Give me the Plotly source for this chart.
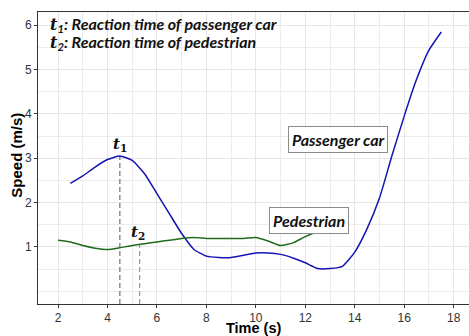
import numpy as np
import plotly.graph_objects as go

# Passenger car speed profile (m/s)
car_time = [2.5, 3.0, 3.5, 4.0, 4.5, 5.0, 5.5, 6.0, 6.5, 7.0, 7.5, 8.0, 8.5, 9.0, 9.5,
            10.0, 10.5, 11.0, 11.5, 12.0, 12.5, 13.0, 13.5, 14.0, 14.5, 15.0, 15.5,
            16.0, 16.5, 17.0, 17.5]
car_speed = [2.43, 2.6, 2.8, 2.97, 3.05, 2.95, 2.65, 2.2, 1.75, 1.3, 0.94, 0.79, 0.76,
             0.76, 0.81, 0.86, 0.86, 0.83, 0.75, 0.64, 0.51, 0.51, 0.56, 0.88, 1.41,
             2.1, 3.05, 3.95, 4.78, 5.44, 5.85]

# Pedestrian speed profile (m/s)
ped_time = [2.0, 2.5, 3.0, 3.5, 4.0, 4.5, 5.0, 5.5, 6.0, 6.5, 7.0, 7.5, 8.0, 8.5, 9.0,
            9.5, 10.0, 10.5, 11.0, 11.5, 12.0, 12.5, 13.0, 13.5]
ped_speed = [1.15, 1.11, 1.03, 0.97, 0.94, 0.98, 1.03, 1.07, 1.11, 1.15, 1.19, 1.21,
             1.19, 1.19, 1.19, 1.19, 1.21, 1.13, 1.03, 1.09, 1.23, 1.34, 1.36, 1.36]

# Reaction times (s)
t1 = 4.5
t2 = 5.3

x_ticks = [2, 4, 6, 8, 10, 12, 14, 16, 18]
y_ticks = [1, 2, 3, 4, 5, 6]

x_range = [1.19, 18.62]
y_range = [-0.29, 6.30]

t1_speed = float(np.interp(t1, car_time, car_speed))
t2_speed = float(np.interp(t2, ped_time, ped_speed))

fig = go.Figure()

fig.add_trace(go.Scatter(x=[t1, t1], y=[y_range[0], t1_speed], mode="lines",
                         line=dict(color="#707070", width=1.2, dash="5px,3px"),
                         hoverinfo="skip", showlegend=False))
fig.add_trace(go.Scatter(x=[t2, t2], y=[y_range[0], t2_speed], mode="lines",
                         line=dict(color="#9a9a9a", width=1.2, dash="5px,3px"),
                         hoverinfo="skip", showlegend=False))

fig.add_trace(go.Scatter(x=car_time, y=car_speed, mode="lines", name="Passenger car",
                         line=dict(color="#1414b4", width=1.5, shape="spline", smoothing=0.5),
                         showlegend=False))
fig.add_trace(go.Scatter(x=ped_time, y=ped_speed, mode="lines", name="Pedestrian",
                         line=dict(color="#1e6b1e", width=1.5, shape="spline", smoothing=0.5),
                         showlegend=False))

label_font = dict(family="Lato", size=16, color="#111111")

fig.add_annotation(x=0.023, y=0.958, xref="paper", yref="paper", xanchor="left", yanchor="middle",
                   text="<b><i><span style='font-family:\"DejaVu Serif\"'>t</span><sub>1</sub>: Reaction time of passenger car</i></b>",
                   showarrow=False, font=label_font)
fig.add_annotation(x=0.023, y=0.895, xref="paper", yref="paper", xanchor="left", yanchor="middle",
                   text="<b><i><span style='font-family:\"DejaVu Serif\"'>t</span><sub>2</sub>: Reaction time of pedestrian</i></b>",
                   showarrow=False, font=label_font)

fig.add_annotation(x=13.31, y=3.42, text="<b><i>Passenger car</i></b>", showarrow=False,
                   font=label_font, bgcolor="white", bordercolor="#8c8c8c", borderwidth=1,
                   borderpad=3)
fig.add_annotation(x=12.14, y=1.60, text="<b><i>Pedestrian</i></b>", showarrow=False,
                   font=label_font, bgcolor="white", bordercolor="#8c8c8c", borderwidth=1,
                   borderpad=3)

serif_font = dict(family="DejaVu Serif", size=15, color="#111111")
fig.add_annotation(x=t1, y=t1_speed + 0.25, text="<b><i>t</i></b><sub><b>1</b></sub>",
                   showarrow=False, font=serif_font)
fig.add_annotation(x=t2 - 0.05, y=t2_speed + 0.27, text="<b><i>t</i></b><sub><b>2</b></sub>",
                   showarrow=False, font=serif_font)

# Axis titles placed as paper-referenced annotations
fig.add_annotation(x=0.5, y=-0.083, xref="paper", yref="paper", xanchor="center", yanchor="middle",
                   text="<b>Time (s)</b>", showarrow=False,
                   font=dict(family="Liberation Sans", size=14.5, color="#000000"))
fig.add_annotation(x=-0.052, y=0.51, xref="paper", yref="paper", xanchor="center", yanchor="middle",
                   text="<b>Speed (m/s)</b>", showarrow=False, textangle=-90,
                   font=dict(family="Liberation Sans", size=15, color="#000000"))

fig.update_layout(
    width=469, height=336,
    margin=dict(l=38, r=0, t=12, b=32, autoexpand=False),
    paper_bgcolor="white", plot_bgcolor="white",
    font=dict(family="Liberation Sans", size=12, color="#333333"),
    xaxis=dict(
        range=x_range, tickvals=x_ticks, ticks="outside", ticklen=3, tickcolor="#333333",
        showline=True, linecolor="#333333", linewidth=1, mirror=True,
        showgrid=True, gridcolor="#e6e6e6", gridwidth=1, zeroline=False,
        minor=dict(dtick=1, tick0=0, showgrid=True, gridcolor="#ececec", gridwidth=1, ticks=""),
        tickfont=dict(size=12, color="#333333"),
    ),
    yaxis=dict(
        range=y_range, tickvals=y_ticks, ticks="outside", ticklen=3, tickcolor="#333333",
        showline=True, linecolor="#333333", linewidth=1,
        showgrid=True, gridcolor="#e6e6e6", gridwidth=1, zeroline=False,
        minor=dict(dtick=0.5, tick0=0, showgrid=True, gridcolor="#ececec", gridwidth=1, ticks=""),
        tickfont=dict(size=12, color="#333333"),
    ),
)

fig.write_html("out.html")
